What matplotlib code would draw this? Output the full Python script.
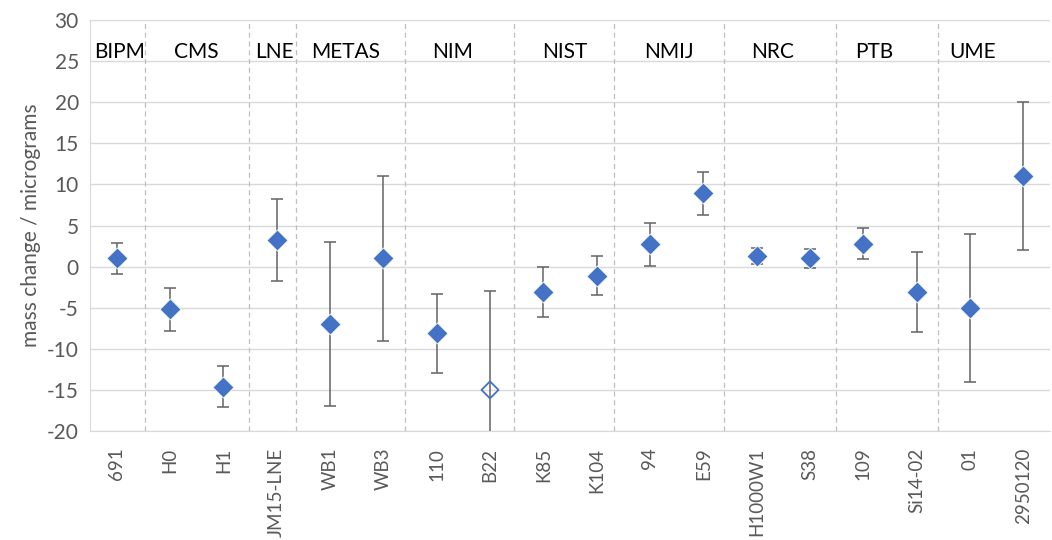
import numpy as np
import matplotlib
matplotlib.use("Agg")
import matplotlib.pyplot as plt

plt.rcParams['font.family'] = ['Lato', 'DejaVu Sans']
plt.rcParams['axes.unicode_minus'] = False

# artefacts and mass change with uncertainty (micrograms)
artefacts = ['691', 'H0', 'H1', 'JM15-LNE', 'WB1', 'WB3', '110', 'B22',
             'K85', 'K104', '94', 'E59', 'H1000W1', 'S38', '109', 'Si14-02',
             '01', '2950120']
mass_change = [1.0, -5.2, -14.6, 3.2, -7.0, 1.0, -8.1, -15.0,
               -3.1, -1.1, 2.7, 8.9, 1.3, 1.0, 2.8, -3.1,
               -5.0, 11.0]
uncertainty = [1.9, 2.6, 2.5, 5.0, 10.0, 10.0, 4.8, 12.0,
               3.0, 2.4, 2.6, 2.6, 0.95, 1.15, 1.85, 4.85,
               9.0, 9.0]
# B22 is shown as an open marker
open_points = ['B22']

# labs and where the dashed separators sit (in category units)
labs = ['BIPM', 'CMS', 'LNE', 'METAS', 'NIM', 'NIST', 'NMIJ', 'NRC', 'PTB', 'UME']
lab_label_x = [0.05, 1.5, 2.95, 4.3, 6.3, 8.4, 10.35, 12.3, 14.2, 16.05]
separators = [0.54, 2.48, 3.36, 5.40, 7.45, 9.32, 11.39, 13.49, 15.40]

blue = '#4472C4'
grey_txt = '#595959'

fig = plt.figure(figsize=(10.52, 5.40), dpi=100)
ax = fig.add_axes([90 / 1052, 1 - 431 / 540, 960 / 1052, 411 / 540])

x = np.arange(len(artefacts))
y = np.array(mass_change)
err = np.array(uncertainty)
is_open = np.array([a in open_points for a in artefacts])

ax.errorbar(x, y, yerr=err, fmt='none', ecolor='#636363', elinewidth=1.1,
            capsize=4, capthick=1.1, zorder=3)
ax.scatter(x[~is_open], y[~is_open], marker='D', s=115, color=blue,
           edgecolors='white', linewidths=0.6, zorder=4)
ax.scatter(x[is_open], y[is_open], marker='D', s=75, facecolors='none',
           edgecolors=blue, linewidths=1.3, zorder=4)

for sx in separators:
    ax.axvline(sx, color='#BFBFBF', linestyle=(0, (4, 3)), linewidth=0.9, zorder=1)

for lab, lx in zip(labs, lab_label_x):
    ax.text(lx, 26.1, lab, ha='center', va='center', fontsize=15, color='black')

ax.set_xlim(-0.5, len(artefacts) - 0.5)
ax.set_ylim(-20, 30)
ax.set_yticks(np.arange(-20, 31, 5))
ax.yaxis.grid(True, color='#D9D9D9', linewidth=1.0, zorder=0)
ax.set_axisbelow(True)

ax.set_xticks(x)
ax.set_xticklabels(artefacts, rotation=90, fontsize=13.5, color=grey_txt)
ax.tick_params(axis='y', labelsize=15, labelcolor=grey_txt, length=0, pad=8)
ax.tick_params(axis='x', length=0, pad=12)

for side in ['top', 'right']:
    ax.spines[side].set_visible(False)
ax.spines['left'].set_color('#D9D9D9')
ax.spines['bottom'].set_color('#D9D9D9')

ax.set_ylabel('mass change / micrograms', fontsize=15, color=grey_txt, labelpad=4)

fig.savefig('out.png', dpi=100)
